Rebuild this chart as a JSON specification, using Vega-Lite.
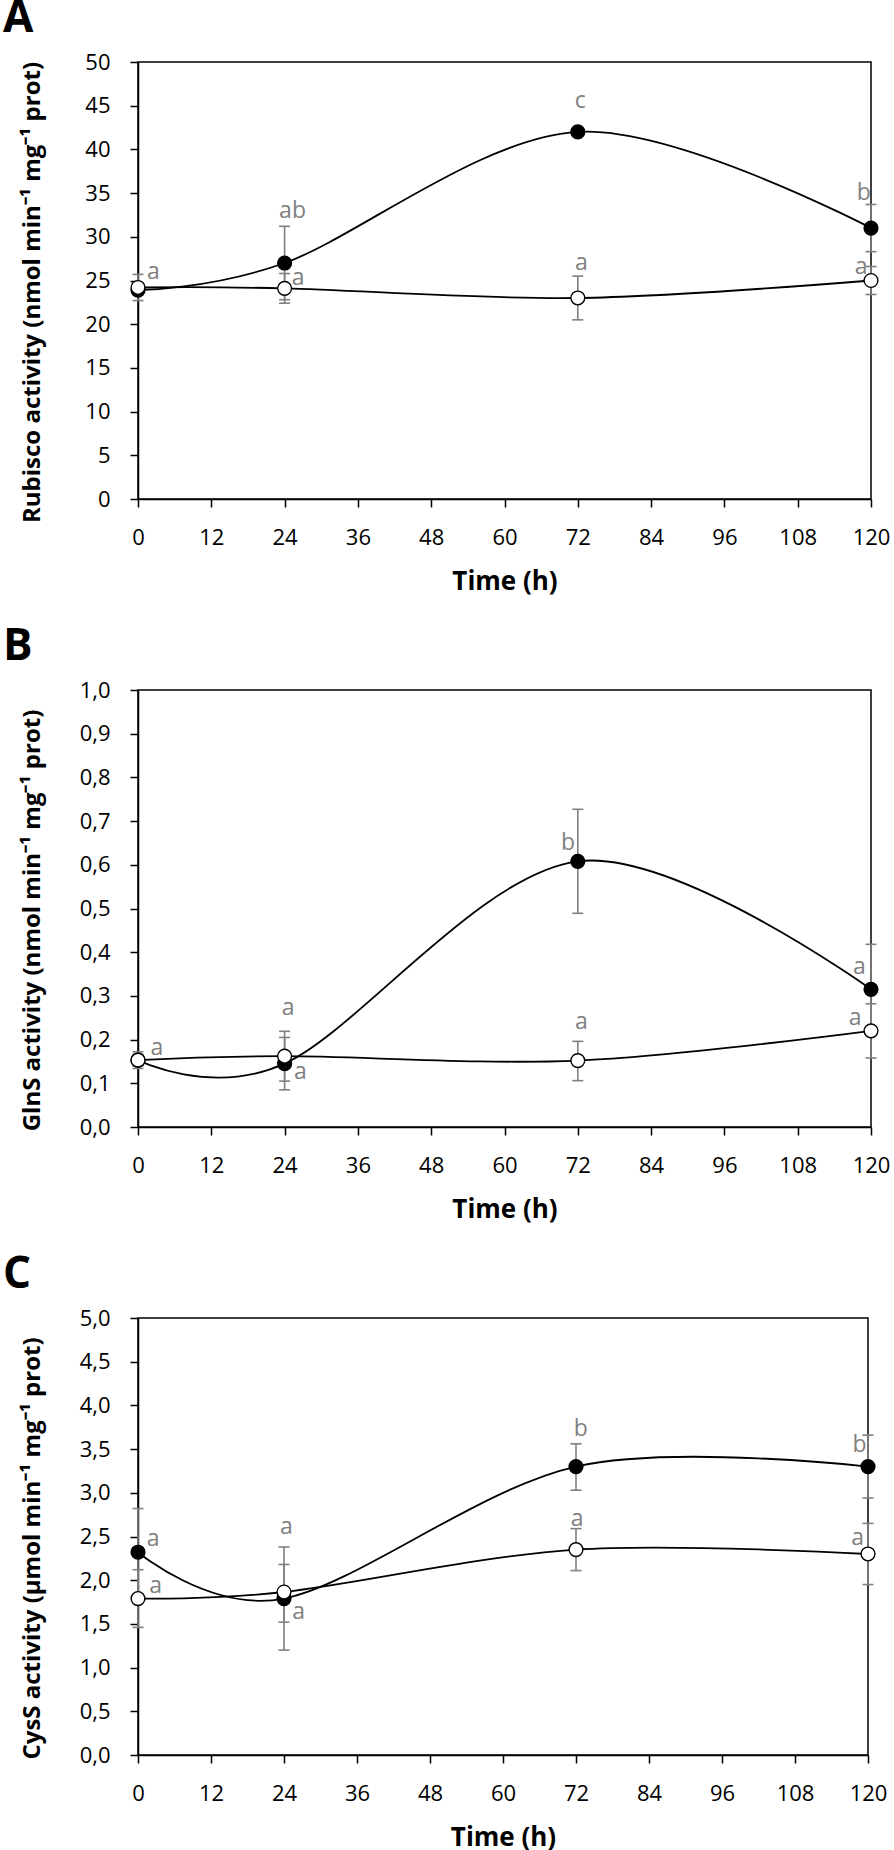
{
  "$schema": "https://vega.github.io/schema/vega-lite/v6.json",
  "padding": {"left": 2, "top": -4, "right": 0, "bottom": 0},
  "background": "white",
  "spacing": 29,
  "datasets": {
    "A": [
      {"s": "filled", "t": 0, "v": 23.9, "lo": 23.6, "hi": 24.2},
      {"s": "filled", "t": 24, "v": 27.0, "lo": 22.8, "hi": 31.2},
      {"s": "filled", "t": 72, "v": 42.0, "lo": 41.7, "hi": 42.3},
      {"s": "filled", "t": 120, "v": 31.0, "lo": 28.3, "hi": 33.7},
      {"s": "open", "t": 0, "v": 24.2, "lo": 22.7, "hi": 25.7},
      {"s": "open", "t": 24, "v": 24.1, "lo": 22.4, "hi": 25.8},
      {"s": "open", "t": 72, "v": 23.0, "lo": 20.5, "hi": 25.5},
      {"s": "open", "t": 120, "v": 25.0, "lo": 23.4, "hi": 26.6}
    ],
    "B": [
      {"s": "filled", "t": 0, "v": 0.153, "lo": 0.14, "hi": 0.166},
      {"s": "filled", "t": 24, "v": 0.145, "lo": 0.085, "hi": 0.205},
      {"s": "filled", "t": 72, "v": 0.608, "lo": 0.489, "hi": 0.727},
      {"s": "filled", "t": 120, "v": 0.315, "lo": 0.212, "hi": 0.418},
      {"s": "open", "t": 0, "v": 0.153, "lo": 0.134, "hi": 0.172},
      {"s": "open", "t": 24, "v": 0.162, "lo": 0.105, "hi": 0.219},
      {"s": "open", "t": 72, "v": 0.152, "lo": 0.106, "hi": 0.196},
      {"s": "open", "t": 120, "v": 0.22, "lo": 0.158, "hi": 0.282}
    ],
    "C": [
      {"s": "filled", "t": 0, "v": 2.32, "lo": 1.82, "hi": 2.82},
      {"s": "filled", "t": 24, "v": 1.79, "lo": 1.2, "hi": 2.38},
      {"s": "filled", "t": 72, "v": 3.3, "lo": 3.03, "hi": 3.56},
      {"s": "filled", "t": 120, "v": 3.3, "lo": 2.94, "hi": 3.66},
      {"s": "open", "t": 0, "v": 1.79, "lo": 1.46, "hi": 2.12},
      {"s": "open", "t": 24, "v": 1.865, "lo": 1.52, "hi": 2.18},
      {"s": "open", "t": 72, "v": 2.35, "lo": 2.11, "hi": 2.59},
      {"s": "open", "t": 120, "v": 2.3, "lo": 1.95, "hi": 2.65}
    ],
    "labA": [
      {"lab": "a", "t": 2.5, "v": 26.0},
      {"lab": "ab", "t": 25.3, "v": 33.0},
      {"lab": "a", "t": 26.2, "v": 25.3},
      {"lab": "c", "t": 72.4, "v": 45.5},
      {"lab": "a", "t": 72.6, "v": 27.0},
      {"lab": "b", "t": 118.8, "v": 35.0},
      {"lab": "a", "t": 118.4, "v": 26.6}
    ],
    "labB": [
      {"lab": "a", "t": 3.1, "v": 0.181},
      {"lab": "a", "t": 24.6, "v": 0.273},
      {"lab": "a", "t": 26.6, "v": 0.125},
      {"lab": "b", "t": 70.4, "v": 0.65},
      {"lab": "a", "t": 72.6, "v": 0.24},
      {"lab": "a", "t": 118.1, "v": 0.367},
      {"lab": "a", "t": 117.4, "v": 0.249}
    ],
    "labC": [
      {"lab": "a", "t": 2.5, "v": 2.47},
      {"lab": "a", "t": 2.9, "v": 1.93},
      {"lab": "a", "t": 24.4, "v": 2.61},
      {"lab": "a", "t": 26.4, "v": 1.64},
      {"lab": "b", "t": 72.8, "v": 3.73},
      {"lab": "a", "t": 72.2, "v": 2.7},
      {"lab": "b", "t": 118.6, "v": 3.55},
      {"lab": "a", "t": 118.3, "v": 2.48}
    ]
  },
  "vconcat": [
    {
      "width": 733, "height": 437,
      "title": {"text": "A"},
      "data": {"name": "A"},
      "encoding": {
        "x": {"field": "t", "type": "quantitative", "scale": {"domain": [0, 120], "nice": false},
              "axis": {"values": [0, 12, 24, 36, 48, 60, 72, 84, 96, 108, 120], "title": "Time (h)"}}
      },
      "layer": [
        {"mark": {"type": "rule", "color": "#808080", "strokeWidth": 1.6},
         "encoding": {"y": {"field": "lo", "type": "quantitative", "scale": {"domain": [0, 50], "nice": false},
              "axis": {"values": [0, 5, 10, 15, 20, 25, 30, 35, 40, 45, 50], "format": "d", "title": "Rubisco activity (nmol min⁻¹ mg⁻¹ prot)"}}, "y2": {"field": "hi"}}},
        {"mark": {"type": "tick", "orient": "horizontal", "color": "#808080", "size": 11, "thickness": 1.6, "opacity": 1},
         "encoding": {"y": {"field": "lo", "type": "quantitative", "title": "Rubisco activity (nmol min⁻¹ mg⁻¹ prot)"}}},
        {"mark": {"type": "tick", "orient": "horizontal", "color": "#808080", "size": 11, "thickness": 1.6, "opacity": 1},
         "encoding": {"y": {"field": "hi", "type": "quantitative", "title": "Rubisco activity (nmol min⁻¹ mg⁻¹ prot)"}}},
        {"mark": {"type": "line", "interpolate": "cardinal", "tension": 0, "color": "black", "strokeWidth": 1.8},
         "encoding": {"y": {"field": "v", "type": "quantitative", "title": "Rubisco activity (nmol min⁻¹ mg⁻¹ prot)"}, "detail": {"field": "s"}}},
        {"mark": {"type": "point", "shape": "circle", "filled": true, "size": 190, "stroke": "black", "strokeWidth": 1.4, "opacity": 1},
         "encoding": {"y": {"field": "v", "type": "quantitative", "title": "Rubisco activity (nmol min⁻¹ mg⁻¹ prot)"},
                      "fill": {"field": "s", "type": "nominal", "scale": {"domain": ["filled", "open"], "range": ["black", "white"]}, "legend": null}}},
        {"data": {"name": "labA"},
         "mark": {"type": "text", "font": "Open Sans", "fontSize": 23, "color": "#808080", "align": "center", "baseline": "middle"},
         "encoding": {"y": {"field": "v", "type": "quantitative", "title": "Rubisco activity (nmol min⁻¹ mg⁻¹ prot)"}, "text": {"field": "lab"}}}
      ]
    },
    {
      "width": 733, "height": 437,
      "title": {"text": "B"},
      "data": {"name": "B"},
      "encoding": {
        "x": {"field": "t", "type": "quantitative", "scale": {"domain": [0, 120], "nice": false},
              "axis": {"values": [0, 12, 24, 36, 48, 60, 72, 84, 96, 108, 120], "title": "Time (h)"}}
      },
      "layer": [
        {"mark": {"type": "rule", "color": "#808080", "strokeWidth": 1.6},
         "encoding": {"y": {"field": "lo", "type": "quantitative", "scale": {"domain": [0, 1], "nice": false},
              "axis": {"values": [0, 0.1, 0.2, 0.3, 0.4, 0.5, 0.6, 0.7, 0.8, 0.9, 1.0], "format": ".1f", "title": "GlnS activity (nmol min⁻¹ mg⁻¹ prot)"}}, "y2": {"field": "hi"}}},
        {"mark": {"type": "tick", "orient": "horizontal", "color": "#808080", "size": 11, "thickness": 1.6, "opacity": 1},
         "encoding": {"y": {"field": "lo", "type": "quantitative", "title": "GlnS activity (nmol min⁻¹ mg⁻¹ prot)"}}},
        {"mark": {"type": "tick", "orient": "horizontal", "color": "#808080", "size": 11, "thickness": 1.6, "opacity": 1},
         "encoding": {"y": {"field": "hi", "type": "quantitative", "title": "GlnS activity (nmol min⁻¹ mg⁻¹ prot)"}}},
        {"mark": {"type": "line", "interpolate": "cardinal", "tension": 0, "color": "black", "strokeWidth": 1.8},
         "encoding": {"y": {"field": "v", "type": "quantitative", "title": "GlnS activity (nmol min⁻¹ mg⁻¹ prot)"}, "detail": {"field": "s"}}},
        {"mark": {"type": "point", "shape": "circle", "filled": true, "size": 190, "stroke": "black", "strokeWidth": 1.4, "opacity": 1},
         "encoding": {"y": {"field": "v", "type": "quantitative", "title": "GlnS activity (nmol min⁻¹ mg⁻¹ prot)"},
                      "fill": {"field": "s", "type": "nominal", "scale": {"domain": ["filled", "open"], "range": ["black", "white"]}, "legend": null}}},
        {"data": {"name": "labB"},
         "mark": {"type": "text", "font": "Open Sans", "fontSize": 23, "color": "#808080", "align": "center", "baseline": "middle"},
         "encoding": {"y": {"field": "v", "type": "quantitative", "title": "GlnS activity (nmol min⁻¹ mg⁻¹ prot)"}, "text": {"field": "lab"}}}
      ]
    },
    {
      "width": 730, "height": 437,
      "title": {"text": "C"},
      "data": {"name": "C"},
      "encoding": {
        "x": {"field": "t", "type": "quantitative", "scale": {"domain": [0, 120], "nice": false},
              "axis": {"values": [0, 12, 24, 36, 48, 60, 72, 84, 96, 108, 120], "title": "Time (h)"}}
      },
      "layer": [
        {"mark": {"type": "rule", "color": "#808080", "strokeWidth": 1.6},
         "encoding": {"y": {"field": "lo", "type": "quantitative", "scale": {"domain": [0, 5], "nice": false},
              "axis": {"values": [0, 0.5, 1, 1.5, 2, 2.5, 3, 3.5, 4, 4.5, 5], "format": ".1f", "title": "CysS activity (µmol min⁻¹ mg⁻¹ prot)"}}, "y2": {"field": "hi"}}},
        {"mark": {"type": "tick", "orient": "horizontal", "color": "#808080", "size": 11, "thickness": 1.6, "opacity": 1},
         "encoding": {"y": {"field": "lo", "type": "quantitative", "title": "CysS activity (µmol min⁻¹ mg⁻¹ prot)"}}},
        {"mark": {"type": "tick", "orient": "horizontal", "color": "#808080", "size": 11, "thickness": 1.6, "opacity": 1},
         "encoding": {"y": {"field": "hi", "type": "quantitative", "title": "CysS activity (µmol min⁻¹ mg⁻¹ prot)"}}},
        {"mark": {"type": "line", "interpolate": "cardinal", "tension": 0, "color": "black", "strokeWidth": 1.8},
         "encoding": {"y": {"field": "v", "type": "quantitative", "title": "CysS activity (µmol min⁻¹ mg⁻¹ prot)"}, "detail": {"field": "s"}}},
        {"mark": {"type": "point", "shape": "circle", "filled": true, "size": 190, "stroke": "black", "strokeWidth": 1.4, "opacity": 1},
         "encoding": {"y": {"field": "v", "type": "quantitative", "title": "CysS activity (µmol min⁻¹ mg⁻¹ prot)"},
                      "fill": {"field": "s", "type": "nominal", "scale": {"domain": ["filled", "open"], "range": ["black", "white"]}, "legend": null}}},
        {"data": {"name": "labC"},
         "mark": {"type": "text", "font": "Open Sans", "fontSize": 23, "color": "#808080", "align": "center", "baseline": "middle"},
         "encoding": {"y": {"field": "v", "type": "quantitative", "title": "CysS activity (µmol min⁻¹ mg⁻¹ prot)"}, "text": {"field": "lab"}}}
      ]
    }
  ],
  "resolve": {"scale": {"x": "independent", "y": "independent", "fill": "independent"}},
  "config": {
    "locale": {"number": {"decimal": ",", "thousands": ".", "grouping": [3], "currency": ["", " €"]}},
    "view": {"stroke": "black", "strokeWidth": 1.5},
    "axis": {
      "grid": false, "domainColor": "black", "domainWidth": 1.5,
      "tickColor": "black", "tickWidth": 1.5, "tickSize": 8,
      "labelFont": "Open Sans", "labelFontSize": 22, "labelColor": "black", "labelPadding": 20,
      "labelFlush": false, "labelOverlap": false,
      "titleFont": "Open Sans", "titleFontWeight": "bold", "titleColor": "black"
    },
    "axisX": {"titlePadding": 20, "titleFontSize": 26},
    "axisY": {"titleFontSize": 24, "titleX": -94, "titleY": 230, "titleAngle": 270, "titleAlign": "center", "titleBaseline": "bottom"},
    "title": {"anchor": "start", "frame": "group", "dx": -135, "offset": 10, "baseline": "alphabetic",
              "font": "Open Sans", "fontSize": 44, "fontWeight": "bold", "color": "black"}
  }
}
